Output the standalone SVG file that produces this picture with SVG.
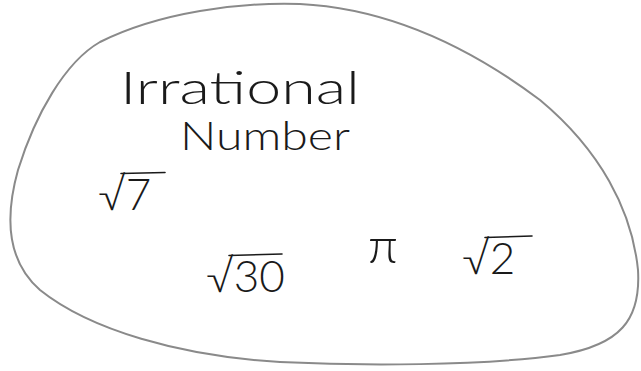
<svg xmlns="http://www.w3.org/2000/svg" width="641" height="371" viewBox="0 0 641 371">
<style>
.hw{font-family:Lato,"Open Sans","Liberation Sans",sans-serif;font-weight:300;fill:#1a1a1a;}
.bar{fill:none;stroke:#1a1a1a;stroke-width:1.6;stroke-linecap:round;}
</style>
<rect width="641" height="371" fill="#ffffff"/>
<path d="M100,42 C160,12 240,2 300,4 C380,8 460,40 540,100 C600,150 632,210 638,270 C641,320 620,345 560,355 C480,366 360,366 280,362 C180,356 90,330 40,290 C8,262 4,220 18,170 C35,115 65,62 100,42 Z" fill="none" stroke="#8a8a8a" stroke-width="2"/>
<text class="hw" x="120" y="104" font-size="46" textLength="240" lengthAdjust="spacingAndGlyphs">Irrational</text>
<text class="hw" x="180" y="150" font-size="40" textLength="170" lengthAdjust="spacingAndGlyphs">Number</text>
<g id="sqrt7">
<text class="hw" x="98" y="210" font-size="44">√7</text>
<line class="bar" x1="121" y1="173.5" x2="165" y2="172.5"/>
</g>
<g id="pi">
<text class="hw" x="368" y="263" font-size="50">π</text>
</g>
<g id="sqrt30">
<text class="hw" x="206" y="292" font-size="44">√30</text>
<line class="bar" x1="229" y1="255.5" x2="282" y2="254"/>
</g>
<g id="sqrt2">
<text class="hw" x="462" y="274" font-size="44">√2</text>
<line class="bar" x1="485" y1="237.5" x2="532" y2="236"/>
</g>
</svg>
